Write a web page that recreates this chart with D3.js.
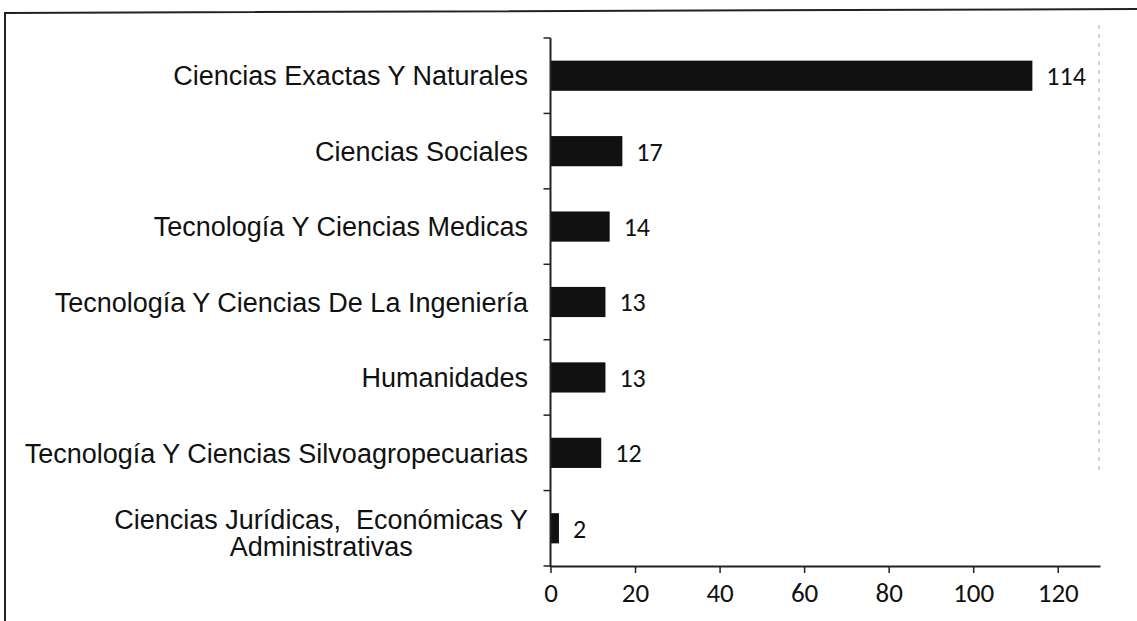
<!DOCTYPE html>
<html>
<head>
<meta charset="utf-8">
<script src="https://cdn.jsdelivr.net/npm/d3@7"></script>
<style>
  body { margin: 0; background: #fff; }
  svg { display: block; }
</style>
</head>
<body>
<div id="chart"></div>
<script>
// Areas (top to bottom) and number of records
var categories = [
  "Ciencias Exactas Y Naturales",
  "Ciencias Sociales",
  "Tecnología Y Ciencias Medicas",
  "Tecnología Y Ciencias De La Ingeniería",
  "Humanidades",
  "Tecnología Y Ciencias Silvoagropecuarias",
  "Ciencias Jurídicas,  Económicas Y\nAdministrativas"
];
var values = [114, 17, 14, 13, 13, 12, 2];
var xTicks = [0, 20, 40, 60, 80, 100, 120];
var xMax = 130;

var width = 1137;
var height = 621;

var svg = d3.select("#chart")
  .append("svg")
  .attr("width", width)
  .attr("height", height);

// scanned frame around the chart
svg.append("path")
  .attr("d", "M5,621 L5,13 L1137,9")
  .attr("fill", "none")
  .attr("stroke", "#222")
  .attr("stroke-width", 2);

svg.append("line")
  .attr("x1", 1099).attr("x2", 1099)
  .attr("y1", 25).attr("y2", 470)
  .attr("stroke", "#aaa")
  .attr("stroke-width", 1)
  .attr("stroke-dasharray", "4,5");

// scales
var xScale = d3.scaleLinear()
  .domain([0, xMax])
  .range([550.5, 1100]);

var yScale = d3.scaleBand()
  .domain(categories)
  .range([38, 566])
  .paddingInner(0.6)
  .paddingOuter(0.3);

// bars
svg.selectAll("rect.bar")
  .data(values)
  .enter()
  .append("rect")
  .attr("class", "bar")
  .attr("x", xScale(0))
  .attr("y", (d, i) => yScale(categories[i]))
  .attr("width", d => xScale(d) - xScale(0))
  .attr("height", yScale.bandwidth())
  .attr("fill", "#111");

// value labels
svg.selectAll("text.val")
  .data(values)
  .enter()
  .append("text")
  .attr("class", "val")
  .attr("x", d => xScale(d) + 14)
  .attr("y", (d, i) => yScale(categories[i]) + yScale.bandwidth() / 2)
  .attr("dy", "0.36em")
  .attr("font-family", "Carlito, 'Open Sans', sans-serif")
  .attr("font-size", 26)
  .attr("fill", "#111")
  .text(d => d);

// x axis
var xAxis = svg.append("g")
  .attr("transform", "translate(0,566)")
  .call(d3.axisBottom(xScale).tickValues(xTicks).tickSize(7).tickPadding(10).tickSizeOuter(0));
xAxis.select(".domain").attr("stroke", "#222").attr("stroke-width", 2);
xAxis.selectAll(".tick line").attr("stroke", "#222").attr("stroke-width", 1.5);
xAxis.selectAll(".tick text")
  .attr("font-family", "Carlito, 'Open Sans', sans-serif")
  .attr("font-size", 27)
  .attr("fill", "#111");

// y axis: ticks at the band edges
var edges = d3.range(categories.length + 1).map(i => 38 + i * (566 - 38) / categories.length);
var yAxis = svg.append("g");
yAxis.append("line")
  .attr("x1", xScale(0)).attr("x2", xScale(0))
  .attr("y1", edges[0]).attr("y2", 567)
  .attr("stroke", "#222")
  .attr("stroke-width", 2);
yAxis.selectAll("line.ytick")
  .data(edges)
  .enter()
  .append("line")
  .attr("class", "ytick")
  .attr("x1", xScale(0) - 7).attr("x2", xScale(0))
  .attr("y1", d => d).attr("y2", d => d)
  .attr("stroke", "#222")
  .attr("stroke-width", 1.5);

// category labels, right aligned; wrapped labels are centred as a block
var labelRight = 528;
categories.forEach(function(c) {
  var lines = c.split("\n");
  var cy = yScale(c) + yScale.bandwidth() / 2;
  if (lines.length > 1) cy += 4;
  var t = svg.append("text")
    .attr("font-family", "'Liberation Sans', Arial, sans-serif")
    .attr("font-size", 27)
    .attr("fill", "#111")
    .style("white-space", "pre");
  var spans = lines.map(function(line, j) {
    return t.append("tspan")
      .attr("y", cy + (j - (lines.length - 1) / 2) * 27)
      .attr("dy", "0.36em")
      .text(line);
  });
  if (lines.length === 1) {
    t.attr("text-anchor", "end");
    spans[0].attr("x", labelRight);
  } else {
    t.attr("text-anchor", "middle");
    var maxLen = d3.max(spans, s => s.node().getComputedTextLength());
    spans.forEach(s => s.attr("x", labelRight - maxLen / 2));
  }
});
</script>
</body>
</html>
